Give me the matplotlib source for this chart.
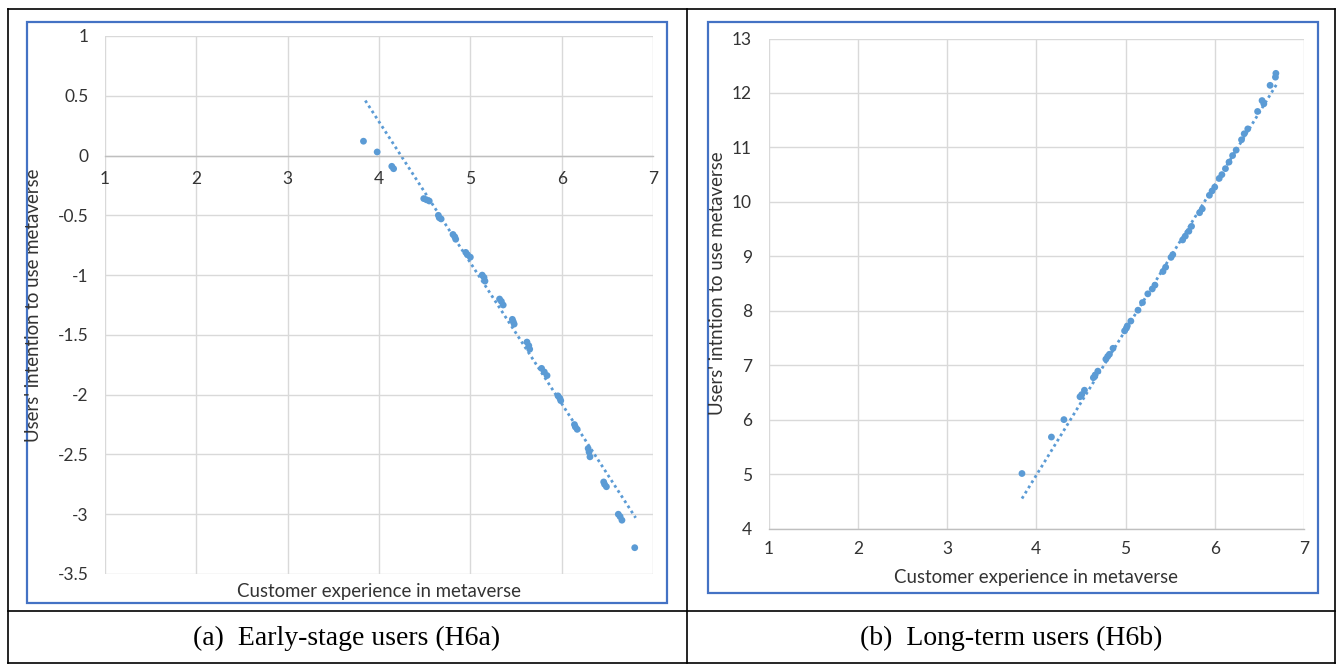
import matplotlib
matplotlib.use("Agg")
import matplotlib.pyplot as plt
from matplotlib.patches import Rectangle
from matplotlib.lines import Line2D

plt.rcParams['axes.unicode_minus'] = False
plt.rcParams['font.family'] = ['Lato', 'DejaVu Sans']

# ---------------- data ----------------
x_ticks = [1, 2, 3, 4, 5, 6, 7]
x_tick_labels = ["1", "2", "3", "4", "5", "6", "7"]

early_y_ticks = [1, 0.5, 0, -0.5, -1, -1.5, -2, -2.5, -3, -3.5]
early_y_tick_labels = ["1", "0.5", "0", "-0.5", "-1", "-1.5", "-2", "-2.5", "-3", "-3.5"]

long_y_ticks = [4, 5, 6, 7, 8, 9, 10, 11, 12, 13]
long_y_tick_labels = ["4", "5", "6", "7", "8", "9", "10", "11", "12", "13"]

early_x = [3.83, 3.98, 4.14, 4.16, 4.49, 4.52, 4.55, 4.65, 4.66, 4.68, 4.81, 4.83,
           4.84, 4.95, 4.97, 5.00, 5.13, 5.15, 5.16, 5.32, 5.34, 5.36, 5.46, 5.47,
           5.48, 5.62, 5.64, 5.65, 5.78, 5.81, 5.84, 5.96, 5.98, 5.99, 6.14, 6.15,
           6.17, 6.29, 6.30, 6.31, 6.46, 6.47, 6.49, 6.62, 6.64, 6.66, 6.80]
early_y = [0.12, 0.03, -0.09, -0.11, -0.36, -0.37, -0.38, -0.50, -0.52, -0.53, -0.66, -0.68,
           -0.70, -0.81, -0.83, -0.85, -1.00, -1.02, -1.05, -1.20, -1.22, -1.25, -1.37, -1.39,
           -1.41, -1.56, -1.59, -1.62, -1.78, -1.81, -1.84, -2.01, -2.03, -2.05, -2.25, -2.27,
           -2.29, -2.45, -2.48, -2.52, -2.73, -2.75, -2.77, -3.00, -3.02, -3.05, -3.28]
early_trend_x = [3.85, 6.81]
early_trend_y = [0.46, -3.03]

long_x = [3.84, 4.17, 4.31, 4.49, 4.51, 4.54, 4.64, 4.66, 4.69, 4.78, 4.80, 4.82,
          4.86, 4.99, 5.01, 5.02, 5.06, 5.14, 5.19, 5.25, 5.30, 5.33, 5.42, 5.45,
          5.51, 5.53, 5.64, 5.67, 5.71, 5.74, 5.83, 5.86, 5.94, 5.97, 6.00, 6.05,
          6.08, 6.12, 6.16, 6.20, 6.24, 6.30, 6.33, 6.37, 6.48, 6.53, 6.55, 6.62,
          6.68, 6.685]
long_y = [5.01, 5.68, 6.00, 6.42, 6.46, 6.54, 6.77, 6.82, 6.89, 7.11, 7.16, 7.20,
          7.31, 7.63, 7.68, 7.72, 7.81, 8.01, 8.15, 8.31, 8.40, 8.47, 8.72, 8.80,
          8.98, 9.03, 9.30, 9.37, 9.46, 9.55, 9.80, 9.87, 10.12, 10.20, 10.27, 10.43,
          10.50, 10.61, 10.73, 10.85, 10.95, 11.14, 11.25, 11.34, 11.66, 11.86, 11.80, 12.14,
          12.29, 12.36]
long_trend_x = [3.84, 6.69]
long_trend_y = [4.55, 12.15]

x_label = "Customer experience in metaverse"
early_y_label = "Users' intention to use metaverse"
long_y_label = "Users' intntion to use metaverse"
caption_a = "(a)  Early-stage users (H6a)"
caption_b = "(b)  Long-term users (H6b)"

# ---------------- style ----------------
W, H = 1337, 665
BLUE = "#5B9BD5"
GRID = "#D9D9D9"
AXIS = "#BFBFBF"
FRAME = "#4472C4"
TXT = "#333333"
TICK_FS = 12.5
LABEL_FS = 13.4

fig = plt.figure(figsize=(W / 100, H / 100), dpi=100)
fig.patch.set_facecolor("white")


def fx(px):
    return px / W


def fy(py):
    return 1 - py / H


def style_axes(ax, yticks, ylabels, ylim, xaxis_at, xpad, ypad):
    ax.set_xlim(1, 7)
    ax.set_ylim(*ylim)
    ax.set_xticks(x_ticks)
    ax.set_xticklabels(x_tick_labels)
    ax.set_yticks(yticks)
    ax.set_yticklabels(ylabels)
    ax.grid(True, color=GRID, linewidth=1.0)
    ax.set_axisbelow(True)
    for s in ["top", "right", "left"]:
        ax.spines[s].set_visible(False)
    ax.spines["bottom"].set_position(("data", xaxis_at))
    ax.spines["bottom"].set_color(AXIS)
    ax.spines["bottom"].set_linewidth(1.0)
    ax.tick_params(axis="both", length=0, labelsize=TICK_FS, colors=TXT)
    ax.tick_params(axis="x", pad=xpad)
    ax.tick_params(axis="y", pad=ypad)
    ax.set_facecolor("white")


# ---- left panel ----
axL = fig.add_axes([fx(105), fy(574), fx(653 - 105), (574 - 36) / H])
style_axes(axL, early_y_ticks, early_y_tick_labels, (-3.5, 1), 0, 11, 12)
axL.scatter(early_x, early_y, s=24, color=BLUE, edgecolors="none", zorder=3)
axL.plot(early_trend_x, early_trend_y, color=BLUE, linewidth=2.0,
         linestyle=(0, (1, 1.2)), zorder=2)

# ---- right panel ----
axR = fig.add_axes([fx(768.5), fy(528.5), fx(1304 - 768.5), (528.5 - 38.5) / H])
style_axes(axR, long_y_ticks, long_y_tick_labels, (4, 13), 4, 9, 12)
axR.scatter(long_x, long_y, s=24, color=BLUE, edgecolors="none", zorder=3)
axR.plot(long_trend_x, long_trend_y, color=BLUE, linewidth=2.0,
         linestyle=(0, (1, 1.2)), zorder=2)

# axis titles
fig.text(fx(379), fy(591), x_label, ha="center", va="center", fontsize=LABEL_FS, color=TXT)
fig.text(fx(1036), fy(578), x_label, ha="center", va="center", fontsize=LABEL_FS, color=TXT)
fig.text(fx(34), fy(305), early_y_label, ha="center", va="center", rotation=90,
         fontsize=LABEL_FS, color=TXT)
fig.text(fx(717), fy(283), long_y_label, ha="center", va="center", rotation=90,
         fontsize=LABEL_FS, color=TXT)

# blue chart frames
fig.add_artist(Rectangle((fx(27), fy(603)), fx(667 - 27), (603 - 22) / H,
                         transform=fig.transFigure, fill=False, edgecolor=FRAME, linewidth=1.6))
fig.add_artist(Rectangle((fx(708), fy(593)), fx(1318 - 708), (593 - 22) / H,
                         transform=fig.transFigure, fill=False, edgecolor=FRAME, linewidth=1.6))

# table lines
def hline(py, x0, x1):
    fig.add_artist(Line2D([fx(x0), fx(x1)], [fy(py), fy(py)], transform=fig.transFigure,
                          color="black", linewidth=1.2))


def vline(px, y0, y1):
    fig.add_artist(Line2D([fx(px), fx(px)], [fy(y0), fy(y1)], transform=fig.transFigure,
                          color="black", linewidth=1.2))


hline(9, 8, 1335)
hline(611, 8, 1335)
hline(663, 8, 1335)
vline(8, 9, 663)
vline(687, 9, 663)
vline(1335, 9, 663)

# captions
fig.text(fx(347), fy(638), caption_a, ha="center", va="center", fontsize=20,
         family=["Liberation Serif", "DejaVu Serif"], color="black")
fig.text(fx(1011), fy(638), caption_b, ha="center", va="center", fontsize=20,
         family=["Liberation Serif", "DejaVu Serif"], color="black")

fig.savefig("out.png", dpi=100, facecolor="white")
